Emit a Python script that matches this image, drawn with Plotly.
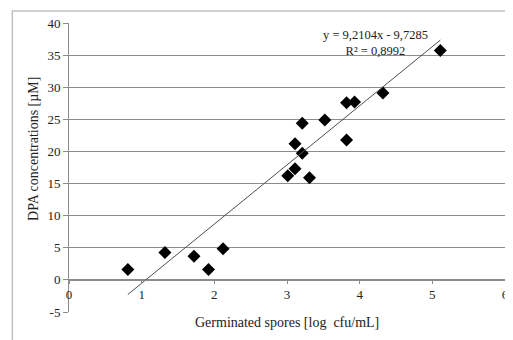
import plotly.graph_objects as go

spores_log = [0.81, 1.32, 1.72, 1.92, 2.12, 3.01, 3.11, 3.11, 3.21, 3.21, 3.31, 3.52, 3.82, 3.93, 3.82, 4.32, 5.11]
dpa_uM = [1.6, 4.25, 3.7, 1.6, 4.85, 16.2, 17.3, 21.2, 19.7, 24.4, 15.9, 24.9, 27.6, 27.7, 21.8, 29.1, 35.7]
slope = 9.2104
intercept = -9.7285
r2 = 0.8992
x_ticks = [0, 1, 2, 3, 4, 5, 6]
y_ticks = [-5, 0, 5, 10, 15, 20, 25, 30, 35, 40]

FONT = "Liberation Serif"
fig = go.Figure()

fig.add_trace(go.Scatter(
    x=spores_log, y=dpa_uM, mode="markers",
    marker=dict(symbol="diamond", size=10, color="black"),
    showlegend=False, cliponaxis=False))

x0, x1 = min(spores_log), max(spores_log)
fig.add_trace(go.Scatter(
    x=[x0, x1], y=[slope * x0 + intercept, slope * x1 + intercept],
    mode="lines", line=dict(color="#4d4d4d", width=1), showlegend=False))

fig.add_annotation(
    x=4.22, y=36.9, xref="x", yref="y", xanchor="center", yanchor="middle",
    text=f"y = {slope:.4f}x - {abs(intercept):.4f}".replace(".", ",") + "<br>" +
         f"R² = {r2:.4f}".replace(".", ","),
    showarrow=False, align="center",
    font=dict(family=FONT, size=12.5, color="#222"))

fig.add_annotation(
    x=0.5, y=-0.038, xref="paper", yref="paper", xanchor="center", yanchor="middle",
    text="Germinated spores [log  cfu/mL]", showarrow=False,
    font=dict(family=FONT, size=14, color="#222"))

fig.add_annotation(
    x=-0.082, y=0.565, xref="paper", yref="paper", textangle=-90,
    xanchor="center", yanchor="middle",
    text="DPA concentrations [µM]", showarrow=False,
    font=dict(family=FONT, size=14, color="#222"))

fig.add_shape(type="rect", xref="paper", yref="paper",
              x0=-0.13, y0=-0.3, x1=1.2, y1=1.0415,
              line=dict(color="#c0c0c0", width=1.5), layer="below")

fig.update_layout(
    width=505, height=332,
    margin=dict(l=61, r=4, t=15, b=28),
    paper_bgcolor="white", plot_bgcolor="white",
    font=dict(family=FONT, size=13, color="#222"),
    xaxis=dict(range=[0, 6], tickvals=x_ticks, ticktext=[str(v) for v in x_ticks],
               showgrid=False, zeroline=False,
               showline=True, linecolor="#8c8c8c", linewidth=1,
               ticks="outside", ticklen=3, tickcolor="#8c8c8c",
               anchor="free", position=5 / 45,
               tickfont=dict(family=FONT, size=13, color="#222")),
    yaxis=dict(range=[-5, 40], tickvals=y_ticks, ticktext=[str(v) for v in y_ticks],
               showgrid=True, gridcolor="#8c8c8c",
               gridwidth=1, zeroline=False, showline=True, linecolor="#8c8c8c",
               ticks="outside", ticklen=5, tickcolor="#8c8c8c",
               tickfont=dict(family=FONT, size=13, color="#222")),
)

fig.write_html("out.html")
